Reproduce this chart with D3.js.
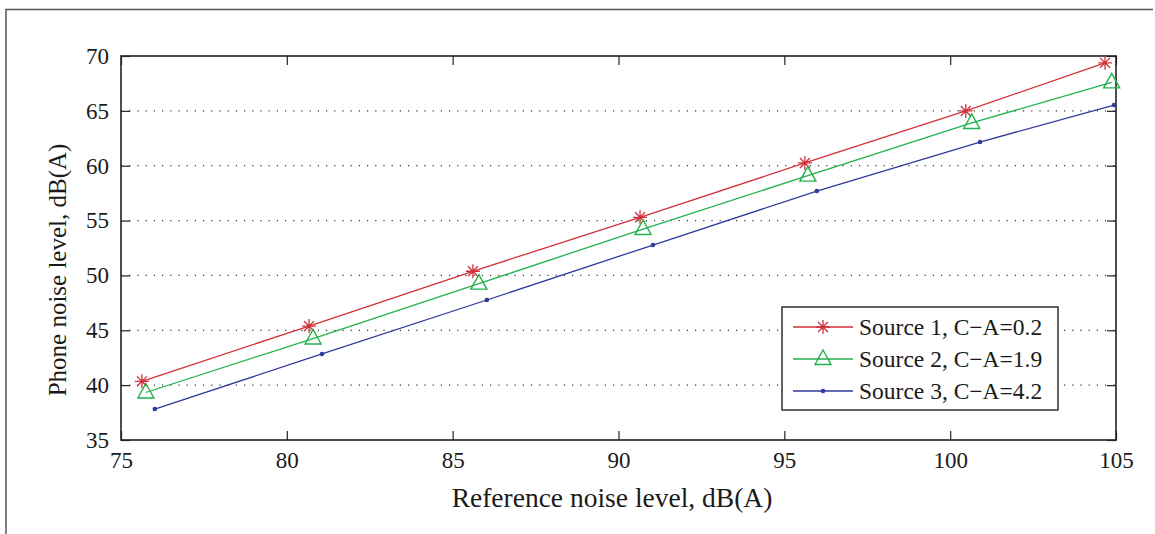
<!DOCTYPE html>
<html>
<head>
<meta charset="utf-8">
<script src="https://cdn.jsdelivr.net/npm/d3@7"></script>
<style>
  html, body { margin: 0; padding: 0; background: #fff; }
  svg { display: block; }
  text { font-family: "Liberation Serif", "Times New Roman", serif; fill: #1a1a1a; }
</style>
</head>
<body>
<script>
// Measured noise levels: reference meter (x) vs phone (y), dB(A)
const source1X = [75.63, 80.67, 85.61, 90.65, 95.62, 100.47, 104.67];
const source1Y = [40.35, 45.38, 50.38, 55.30, 60.25, 64.99, 69.38];
const source2X = [75.75, 80.79, 85.79, 90.74, 95.71, 100.65, 104.87];
const source2Y = [39.33, 44.25, 49.25, 54.23, 59.10, 63.90, 67.60];
const source3X = [76.02, 81.06, 86.03, 91.04, 95.98, 100.90, 104.94];
const source3Y = [37.82, 42.84, 47.76, 52.77, 57.69, 62.16, 65.53];

const seriesNames = ["Source 1, C\u2212A=0.2", "Source 2, C\u2212A=1.9", "Source 3, C\u2212A=4.2"];
const xTicks = [75, 80, 85, 90, 95, 100, 105];
const yTicks = [35, 40, 45, 50, 55, 60, 65, 70];

const W = 1155, H = 534;
const plot = { left: 121, right: 1116, top: 56, bottom: 440 };
const serif = "'Liberation Serif', 'Times New Roman', serif";

const svg = d3.select("body").append("svg").attr("width", W).attr("height", H);

// outer figure frame (top and left edges)
svg.append("path")
  .attr("d", `M6,${H} L6,9.5 L1153,9.5`)
  .attr("fill", "none").attr("stroke", "#555").attr("stroke-width", 1.5);

const x = d3.scaleLinear().domain([75, 105]).range([plot.left, plot.right]);
const y = d3.scaleLinear().domain([35, 70]).range([plot.bottom, plot.top]);

// dotted horizontal grid
svg.append("g").selectAll("line")
  .data(yTicks.filter(t => t > 35 && t < 70))
  .join("line")
  .attr("x1", plot.left).attr("x2", plot.right)
  .attr("y1", d => y(d)).attr("y2", d => y(d))
  .attr("stroke", "#333").attr("stroke-width", 1.2)
  .attr("stroke-dasharray", "1.2,7");

// axes: ticks point inward, on all four sides
const tickLen = 9;
const axisColor = "#222";
function styleAxis(g) {
  g.attr("font-family", null).attr("font-size", null);
  g.select(".domain").remove();
  g.selectAll(".tick line").attr("stroke", axisColor).attr("stroke-width", 1.2);
  g.selectAll(".tick text")
    .style("font-family", serif).style("font-size", "23px").style("fill", "#1a1a1a");
}
svg.append("g").attr("transform", `translate(0,${plot.bottom})`)
  .call(d3.axisBottom(x).tickValues(xTicks).tickSizeInner(-tickLen).tickSizeOuter(0).tickPadding(12))
  .call(styleAxis);
svg.append("g").attr("transform", `translate(0,${plot.top})`)
  .call(d3.axisTop(x).tickValues(xTicks).tickSizeInner(-tickLen).tickSizeOuter(0).tickFormat(""))
  .call(styleAxis);
svg.append("g").attr("transform", `translate(${plot.left},0)`)
  .call(d3.axisLeft(y).tickValues(yTicks).tickSizeInner(-tickLen).tickSizeOuter(0).tickPadding(12))
  .call(styleAxis);
svg.append("g").attr("transform", `translate(${plot.right},0)`)
  .call(d3.axisRight(y).tickValues(yTicks).tickSizeInner(-tickLen).tickSizeOuter(0).tickFormat(""))
  .call(styleAxis);

// plot box
svg.append("rect")
  .attr("x", plot.left).attr("y", plot.top)
  .attr("width", plot.right - plot.left).attr("height", plot.bottom - plot.top)
  .attr("fill", "none").attr("stroke", axisColor).attr("stroke-width", 1.6);

// axis titles
svg.append("text")
  .attr("x", 612).attr("y", 507)
  .attr("text-anchor", "middle").style("font-size", "27.5px")
  .text("Reference noise level, dB(A)");
svg.append("text")
  .attr("transform", `translate(66,270) rotate(-90)`)
  .attr("text-anchor", "middle").style("font-size", "25px")
  .text("Phone noise level, dB(A)");

// marker drawers
function drawStar(g, cx, cy, color) {
  const r = 7;
  const p = d3.path();
  for (let i = 0; i < 4; i++) {
    const a = i * Math.PI / 4;
    p.moveTo(cx - r * Math.cos(a), cy - r * Math.sin(a));
    p.lineTo(cx + r * Math.cos(a), cy + r * Math.sin(a));
  }
  g.append("path").attr("d", p.toString()).attr("stroke", color).attr("stroke-width", 1.3).attr("fill", "none");
}
function drawTriangle(g, cx, cy, color) {
  const hw = 8, up = 9, down = 5.5;
  g.append("path")
    .attr("d", `M${cx},${cy - up} L${cx + hw},${cy + down} L${cx - hw},${cy + down} Z`)
    .attr("stroke", color).attr("stroke-width", 1.4).attr("fill", "none");
}
function drawDot(g, cx, cy, color) {
  g.append("circle").attr("cx", cx).attr("cy", cy).attr("r", 2.3).attr("fill", color);
}

const series = [
  { xs: source1X, ys: source1Y, color: "#d1303a", marker: drawStar },
  { xs: source2X, ys: source2Y, color: "#22b14c", marker: drawTriangle },
  { xs: source3X, ys: source3Y, color: "#2e3a9c", marker: drawDot }
];

const line = d3.line().x(d => x(d[0])).y(d => y(d[1]));
series.forEach(s => {
  const pts = s.xs.map((v, i) => [v, s.ys[i]]);
  const g = svg.append("g");
  g.append("path").attr("d", line(pts)).attr("fill", "none")
    .attr("stroke", s.color).attr("stroke-width", 1.3);
  pts.forEach(p => s.marker(g, x(p[0]), y(p[1]), s.color));
});

// legend
const leg = svg.append("g");
leg.append("rect").attr("x", 782).attr("y", 307).attr("width", 276).attr("height", 103)
  .attr("fill", "#fff").attr("stroke", axisColor).attr("stroke-width", 1.4);
const rowY = [327, 359, 391];
series.forEach((s, i) => {
  leg.append("line").attr("x1", 793).attr("x2", 853).attr("y1", rowY[i]).attr("y2", rowY[i])
    .attr("stroke", s.color).attr("stroke-width", 1.3);
  s.marker(leg, 823, rowY[i], s.color);
  leg.append("text").attr("x", 859).attr("y", rowY[i] + 8).style("font-size", "23.5px")
    .text(seriesNames[i]);
});
</script>
</body>
</html>
